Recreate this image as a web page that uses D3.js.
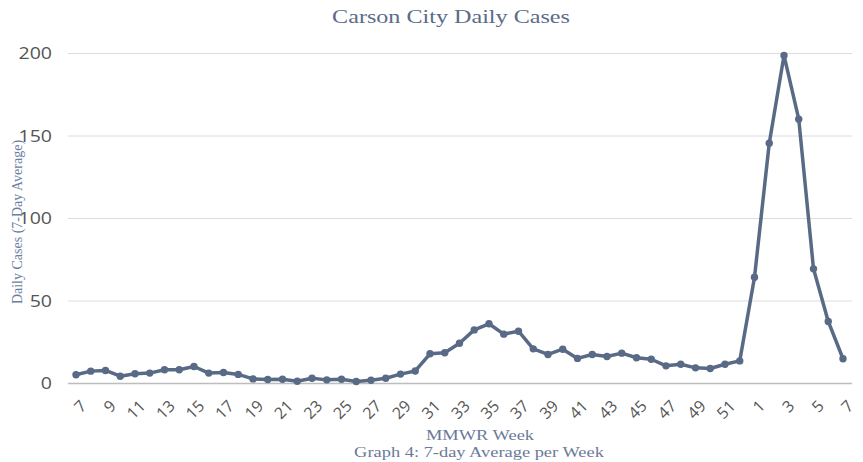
<!DOCTYPE html>
<meta charset="utf-8">
<style>
  body { margin: 0; background: #fff; }
  text { font-family: "Open Sans", sans-serif; }
  .serif { font-family: "Liberation Serif", "Times New Roman", serif; }
</style>
<script src="https://cdn.jsdelivr.net/npm/d3@7/dist/d3.min.js"></script>
<body>
</body>
<script>

// MMWR weeks, 2020 (7..52) then 2021 (1..7)
var weeks2020 = d3.range(7, 53);
var weeks2021 = [1, 2, 3, 4, 5, 6, 7];

// 7-day average of daily cases
var cases2020 = [5.3, 7.5, 7.9, 4.4, 5.9, 6.3, 8.3, 8.3, 10.3, 6.3,
                 6.7, 5.5, 2.8, 2.4, 2.6, 1.4, 3.2, 2.2, 2.6, 1.2,
                 2.0, 3.2, 5.7, 7.6, 18, 18.6, 24.4, 32.5, 36.2, 29.9,
                 31.7, 21, 17.6, 20.8, 15.2, 17.6, 16.4, 18.4, 15.6, 14.7,
                 10.7, 11.7, 9.5, 9.1, 11.7, 13.7];
var cases2021 = [64.4, 145.6, 198.8, 160.2, 69.5, 37.6, 15];

var yTicks = [0, 50, 100, 150, 200];

var titleText = "Carson City Daily Cases";
var yLabel = "Daily Cases (7-Day Average)";
var xLabel = "MMWR Week";
var caption = "Graph 4: 7-day Average per Week";

var data = weeks2020.map((w, i) => ({key: "2020-" + w, week: w, value: cases2020[i]}))
  .concat(weeks2021.map((w, i) => ({key: "2021-" + w, week: w, value: cases2021[i]})));

const width = 863, height = 462;
const lineColor = "#596a86";
// the source picture is stretched sideways a bit, text looks wide
const stretch = 1.27;

var svg = d3.select("body").append("svg")
  .attr("width", width)
  .attr("height", height);

var xScale = d3.scalePoint()
  .domain(data.map(d => d.key))
  .range([76, 843]);

var yScale = d3.scaleLinear()
  .domain([0, 200])
  .range([383.5, 53.5]);

// gridlines
svg.append("g").selectAll("line")
  .data(yTicks)
  .enter()
  .append("line")
    .attr("x1", 68)
    .attr("x2", 852)
    .attr("y1", d => yScale(d))
    .attr("y2", d => yScale(d))
    .attr("stroke", d => d == 0 ? "#bdbdbd" : "#dcdcdc")
    .attr("stroke-width", d => d == 0 ? 1.5 : 1);

// y axis (labels only)
var yAxis = d3.axisLeft(yScale).tickValues(yTicks).tickSize(0).tickPadding(0);
var gy = svg.append("g").attr("transform", "translate(52,0)").call(yAxis);
gy.select(".domain").remove();
gy.selectAll("text")
  .attr("font-family", "'Open Sans', sans-serif")
  .attr("font-size", "17px")
  .attr("fill", "#555")
  .attr("transform", "scale(1.15,1)");

// x axis (labels only, every other week, rotated)
var xAxis = d3.axisBottom(xScale)
  .tickValues(data.filter((d, i) => i % 2 == 0).map(d => d.key))
  .tickFormat(k => k.split("-")[1])
  .tickSize(0);
var gx = svg.append("g").attr("transform", "translate(0,383)").call(xAxis);
gx.select(".domain").remove();
gx.selectAll("text")
  .attr("font-family", "'Open Sans', sans-serif")
  .attr("font-size", "16px")
  .attr("fill", "#555")
  .attr("text-anchor", "end")
  .attr("y", 0)
  .attr("dy", "0.35em")
  .attr("transform", "translate(7,20) rotate(-45)");

// line + markers
var line = d3.line()
  .x(d => xScale(d.key))
  .y(d => yScale(d.value));

svg.append("path")
  .datum(data)
  .attr("d", line)
  .attr("fill", "none")
  .attr("stroke", lineColor)
  .attr("stroke-width", 3.5)
  .attr("stroke-linejoin", "round");

svg.append("g").selectAll("circle")
  .data(data)
  .enter()
  .append("circle")
    .attr("cx", d => xScale(d.key))
    .attr("cy", d => yScale(d.value))
    .attr("r", 3.7)
    .attr("fill", lineColor);

// titles
svg.append("text")
  .attr("class", "serif")
  .attr("transform", `translate(451,23) scale(${stretch},1)`)
  .attr("text-anchor", "middle")
  .attr("font-size", "19px")
  .attr("fill", "#5b6b88")
  .text(titleText);

svg.append("text")
  .attr("class", "serif")
  .attr("transform", "translate(22,222) rotate(-90)")
  .attr("text-anchor", "middle")
  .attr("font-size", "14px")
  .attr("fill", "#6a7ea0")
  .text(yLabel);

svg.append("text")
  .attr("class", "serif")
  .attr("transform", `translate(480,440) scale(${stretch},1)`)
  .attr("text-anchor", "middle")
  .attr("font-size", "14.5px")
  .attr("fill", "#6a7a99")
  .text(xLabel);

svg.append("text")
  .attr("class", "serif")
  .attr("transform", `translate(479,457) scale(${stretch},1)`)
  .attr("text-anchor", "middle")
  .attr("font-size", "14.5px")
  .attr("fill", "#6a7a99")
  .text(caption);

</script>
